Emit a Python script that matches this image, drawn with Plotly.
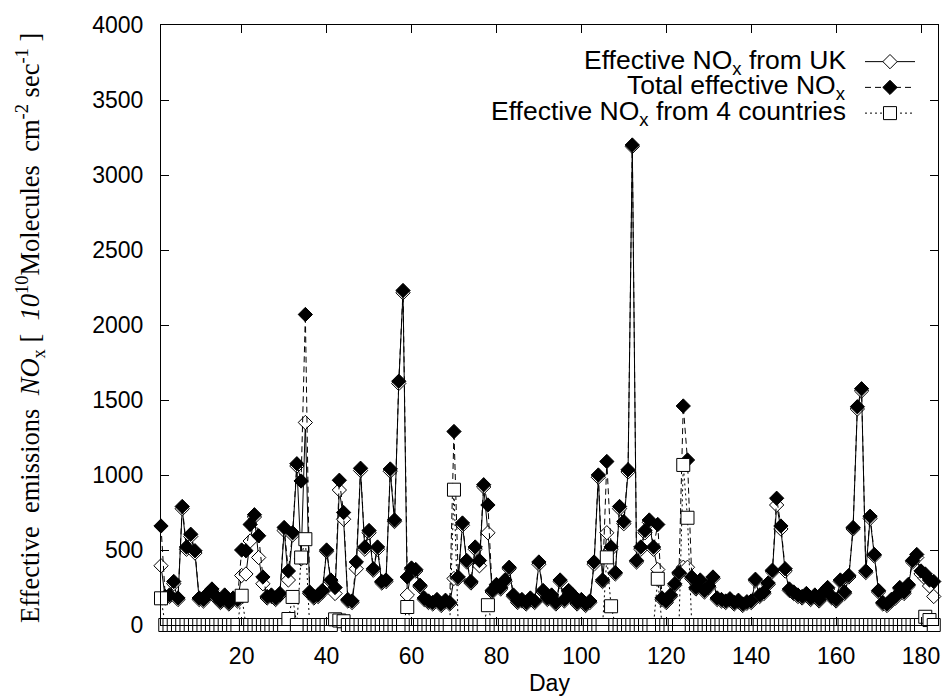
import plotly.graph_objects as go

days = list(range(1, 184))

total = [
    660, 190, 200, 290, 180, 790, 520, 605, 495, 180,
    170, 210, 240, 190, 160, 200, 150, 180, 170, 500,
    495, 670, 735, 595, 320, 190, 200, 180, 210, 650,
    360, 615, 1075, 960, 2070, 220, 190, 200, 230, 500,
    300, 250, 965, 750, 170, 160, 420, 1045, 520, 630,
    375, 520, 290, 300, 1040, 700, 1625, 2230, 320, 380,
    370, 265, 180, 160, 150, 170, 140, 165, 150, 1290,
    320, 680, 430, 290, 520, 430, 935, 800, 230, 270,
    250, 300, 385, 200, 160, 170, 150, 180, 160, 420,
    230, 180, 200, 150, 300, 170, 230, 200, 150, 170,
    140, 160, 420, 1000, 300, 1090, 520, 350, 790, 690,
    1035, 3200, 430, 520, 630, 700, 520, 670, 180, 160,
    200, 275, 350, 1460, 1100, 320, 250, 300, 230, 260,
    320, 180, 170, 160, 175, 150, 165, 140, 155, 160,
    305, 200, 220, 280, 365, 845, 660, 375, 240, 220,
    200, 190, 210, 180, 200, 170, 220, 250, 190, 170,
    300, 220, 330, 650, 1455, 1575, 360, 725, 470, 230,
    150, 140, 170, 190, 250, 220, 270, 430, 470, 360,
    340, 300, 290,
]

uk = [
    395, 180, 190, 275, 170, 775, 505, 590, 480, 170,
    160, 200, 230, 180, 150, 190, 140, 170, 160, 330,
    340, 560, 720, 450, 275, 180, 190, 170, 200, 630,
    300, 600, 1060, 440, 1350, 210, 180, 190, 220, 490,
    290, 210, 900, 705, 160, 150, 375, 1030, 505, 615,
    365, 505, 280, 290, 1025, 690, 1610, 2215, 200, 370,
    360, 255, 170, 150, 140, 160, 130, 155, 140, 310,
    310, 665, 420, 280, 505, 395, 920, 615, 220, 260,
    240, 290, 375, 190, 150, 160, 140, 170, 150, 405,
    220, 170, 190, 140, 290, 160, 220, 190, 140, 160,
    130, 150, 405, 985, 290, 615, 505, 340, 775, 675,
    1020, 3190, 420, 505, 615, 685, 505, 370, 170, 150,
    190, 265, 340, 385, 385, 310, 240, 290, 220, 250,
    310, 170, 160, 150, 165, 140, 155, 130, 145, 150,
    295, 190, 210, 270, 355, 800, 640, 360, 230, 210,
    190, 180, 200, 170, 190, 160, 210, 240, 180, 160,
    290, 210, 320, 640, 1440, 1560, 350, 710, 460, 220,
    140, 130, 160, 180, 240, 210, 260, 420, 450, 340,
    310, 260, 190,
]

four = [
    178, 0, 0, 0, 0, 0, 0, 0, 0, 0,
    0, 0, 0, 0, 0, 0, 0, 0, 0, 195,
    0, 0, 0, 0, 0, 0, 0, 0, 0, 0,
    40, 187, 0, 450, 572, 0, 0, 0, 0, 0,
    0, 38, 30, 25, 0, 0, 0, 0, 0, 0,
    0, 0, 0, 0, 0, 0, 0, 0, 120, 0,
    0, 0, 0, 0, 0, 0, 0, 0, 0, 902,
    0, 0, 0, 0, 0, 0, 0, 132, 0, 0,
    0, 0, 0, 0, 0, 0, 0, 0, 0, 0,
    0, 0, 0, 0, 0, 0, 0, 0, 0, 0,
    0, 0, 0, 0, 0, 451, 125, 0, 0, 0,
    0, 0, 0, 0, 0, 0, 0, 308, 0, 0,
    0, 0, 0, 1067, 715, 0, 0, 0, 0, 0,
    0, 0, 0, 0, 0, 0, 0, 0, 0, 0,
    0, 0, 0, 0, 0, 0, 0, 0, 0, 0,
    0, 0, 0, 0, 0, 0, 0, 0, 0, 0,
    0, 0, 0, 0, 0, 0, 0, 0, 0, 0,
    0, 0, 0, 0, 0, 0, 0, 0, 0, 0,
    55, 33, 0,
]

series_names = [
    "Effective NO<sub>x</sub> from UK",
    "Total effective NO<sub>x</sub>",
    "Effective NO<sub>x</sub> from 4 countries",
]
x_ticks = [20, 40, 60, 80, 100, 120, 140, 160, 180]
y_ticks = [0, 500, 1000, 1500, 2000, 2500, 3000, 3500, 4000]

styles = [
    dict(dash="solid", symbol="diamond", fill="white", size=11),
    dict(dash="6px,4px", symbol="diamond", fill="black", size=11),
    dict(dash="2px,3px", symbol="square", fill="white", size=13),
]
values = [uk, total, four]

# plot area in pixels
L, R, T, B = 161, 938, 19, 625
W, H = R - L, B - T


def px(xp):
    return (xp - L) / W


def py(yp):
    return (B - yp) / H


fig = go.Figure()
for name, vals, st in zip(series_names, values, styles):
    fig.add_trace(go.Scatter(
        x=days, y=vals, mode="lines+markers", name=name,
        line=dict(color="black", width=1, dash=st["dash"]),
        marker=dict(symbol=st["symbol"], size=st["size"], color=st["fill"],
                    line=dict(color="black", width=1)),
        cliponaxis=False, showlegend=False,
    ))

# manual legend (text left of sample, as in gnuplot)
leg_rows = [56, 82, 108]
for name, st, ry in zip(series_names, styles, leg_rows):
    fig.add_trace(go.Scatter(
        x=[865, 915], y=[ry, ry], xaxis="x2", yaxis="y2", mode="lines",
        line=dict(color="black", width=1, dash=st["dash"]),
        showlegend=False, hoverinfo="skip",
    ))
    fig.add_trace(go.Scatter(
        x=[890], y=[ry], xaxis="x2", yaxis="y2", mode="markers",
        marker=dict(symbol=st["symbol"], size=st["size"], color=st["fill"],
                    line=dict(color="black", width=1)),
        showlegend=False, hoverinfo="skip", cliponaxis=False,
    ))
    fig.add_annotation(x=px(848), y=py(ry), xref="paper", yref="paper", text=name,
                       showarrow=False, xanchor="right", yanchor="middle",
                       font=dict(family="Liberation Sans", size=26.5, color="black"))

fig.add_annotation(
    x=px(30), y=py(325), xref="paper", yref="paper", textangle=-90,
    text=("Effective&nbsp;&nbsp;emissions&nbsp;&nbsp;<i>NO</i><sub>x</sub> [&nbsp;&nbsp;<i>10</i><sup>10</sup>"
          "Molecules&nbsp;&nbsp;cm<sup>-2</sup>&nbsp;sec<sup>-1</sup>&nbsp;]"),
    showarrow=False, xanchor="center", yanchor="middle",
    font=dict(family="Liberation Serif", size=26.5, color="black"))

fig.add_annotation(x=px(549), y=py(684), xref="paper", yref="paper", text="Day",
                   showarrow=False, xanchor="center", yanchor="middle",
                   font=dict(family="Liberation Sans", size=23, color="black"))

axis_common = dict(showline=True, linecolor="black", linewidth=1, mirror="ticks",
                   ticks="inside", ticklen=8, tickcolor="black", tickwidth=1,
                   showgrid=False, zeroline=False,
                   tickfont=dict(family="Liberation Sans", size=23, color="black"))

fig.update_layout(
    width=952, height=700, paper_bgcolor="white", plot_bgcolor="white",
    margin=dict(l=L, r=952 - R, t=T, b=700 - B),
    xaxis=dict(range=[1, 184], tickvals=x_ticks, ticklabelstandoff=10, **axis_common),
    yaxis=dict(range=[0, 4000], tickvals=y_ticks, ticklabelstandoff=12, **axis_common),
    xaxis2=dict(overlaying="x", range=[L, R], visible=False, fixedrange=True),
    yaxis2=dict(overlaying="y", range=[B, T], visible=False, fixedrange=True),
)

fig.write_html("out.html")
